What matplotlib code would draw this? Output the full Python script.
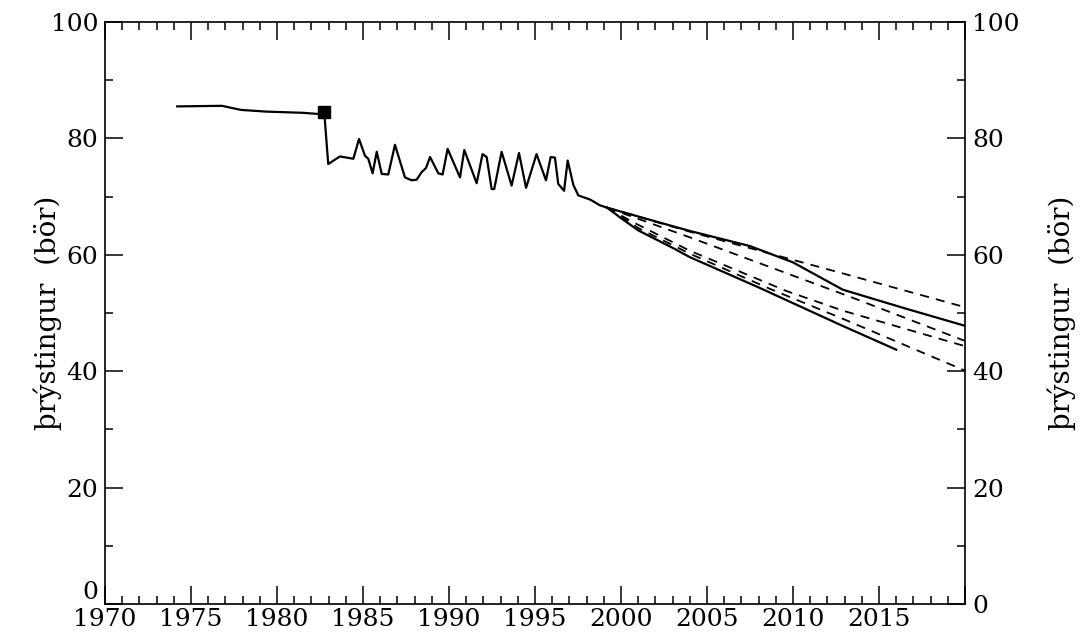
import matplotlib
matplotlib.use("Agg")
import matplotlib.pyplot as plt
from matplotlib.ticker import MultipleLocator, FixedLocator, FixedFormatter

plt.rcParams['font.family'] = ['DejaVu Serif']

# measured pressure (bar), annual swings after production start
hist_year = [1974.2, 1976.8, 1977.9, 1979.4, 1981.5, 1982.4, 1982.75, 1982.98, 1983.66, 1984.44,
             1984.77, 1985.12, 1985.31, 1985.56, 1985.80, 1986.09, 1986.47, 1986.86, 1987.44,
             1987.83, 1988.12, 1988.41, 1988.66, 1988.90, 1989.38, 1989.63, 1989.92, 1990.64,
             1990.89, 1991.61, 1991.95, 1992.19, 1992.48, 1992.63, 1993.06, 1993.64, 1994.07,
             1994.48, 1995.09, 1995.64, 1995.91, 1996.16, 1996.35, 1996.69, 1996.90, 1997.23,
             1997.52, 1998.20, 1998.78, 1999.19]
hist_pres = [85.5, 85.6, 84.9, 84.6, 84.4, 84.2, 84.4, 75.6, 76.9, 76.5,
             79.9, 77.0, 76.5, 74.0, 77.7, 73.9, 73.8, 78.9, 73.3,
             72.8, 72.9, 74.2, 74.9, 76.8, 74.0, 73.8, 78.2, 73.3,
             78.0, 72.3, 77.3, 76.8, 71.3, 71.3, 77.7, 71.9, 77.5,
             71.5, 77.3, 72.8, 76.8, 76.7, 72.2, 71.0, 76.2, 72.0,
             70.2, 69.5, 68.5, 68.1]

# initial-state marker
marker_year = [1982.75]
marker_pres = [84.6]

# forecast scenarios (solid)
up_year = [1999.19, 2002.3, 2004.0, 2007.5, 2010.0, 2012.9, 2016.5, 2020.0]
up_pres = [68.1, 65.5, 64.1, 61.5, 58.7, 54.0, 50.8, 47.8]
lo_year = [1999.19, 2000.0, 2001.0, 2003.0, 2004.0, 2008.0, 2012.8, 2016.0]
lo_pres = [68.1, 66.3, 64.2, 61.2, 59.6, 54.4, 47.9, 43.7]

# forecast scenarios (dashed)
dash_year = [
    [1999.19, 2004.2, 2012.9, 2020.0],
    [1999.19, 2004.0, 2013.4, 2020.0],
    [1999.19, 2000.7, 2004.0, 2009.6, 2012.9, 2020.0],
    [1999.19, 2001.0, 2004.0, 2008.7, 2012.9, 2020.0],
]
dash_pres = [
    [68.1, 63.8, 56.8, 51.0],
    [68.1, 63.0, 52.7, 45.2],
    [68.1, 65.6, 60.7, 53.8, 50.4, 44.3],
    [68.1, 64.6, 60.2, 54.1, 49.0, 40.1],
]

x_major = [1970, 1975, 1980, 1985, 1990, 1995, 2000, 2005, 2010, 2015, 2020]
x_labels = ['1970', '1975', '1980', '1985', '1990', '1995', '2000', '2005', '2010', '2015', '']
y_major = [0, 20, 40, 60, 80, 100]
ylabel = 'þrýstingur  (bör)'

fig = plt.figure(figsize=(10.81, 6.38), dpi=100)
ax = fig.add_axes([0.0971, 0.0533, 0.7956, 0.9122])
# right side labels live on a twin axis
ax2 = ax.twinx()

ax.plot(hist_year, hist_pres, color='black', lw=1.6, solid_joinstyle='round')
ax.plot(marker_year, marker_pres, 's', color='black', markersize=9)
ax.plot(up_year, up_pres, color='black', lw=1.6)
ax.plot(lo_year, lo_pres, color='black', lw=1.6)
for xs, ys in zip(dash_year, dash_pres):
    ax.plot(xs, ys, color='black', lw=1.3, linestyle=(0, (5, 4)))

ax.set_xlim(1970, 2020)
ax.set_ylim(0, 100)
ax.xaxis.set_major_locator(FixedLocator(x_major))
ax.xaxis.set_major_formatter(FixedFormatter(x_labels))
ax.xaxis.set_minor_locator(MultipleLocator(1))
ax.yaxis.set_major_locator(FixedLocator(y_major))
ax.yaxis.set_minor_locator(MultipleLocator(10))

for s in ax.spines.values():
    s.set_linewidth(1.2)

ax.tick_params(which='both', direction='in', top=True, right=True, left=True, bottom=True,
               width=1.1, labelsize=18, colors='black')
ax.tick_params(which='major', length=13)
ax.tick_params(axis='x', which='major', pad=3)
ax.tick_params(axis='y', which='major', pad=5)
ax.tick_params(which='minor', length=6)
ax.set_ylabel(ylabel, fontsize=20, labelpad=-8)

ax2.set_ylim(ax.get_ylim())
ax2.yaxis.set_major_locator(FixedLocator(y_major))
ax2.tick_params(which='both', length=0, labelsize=18, pad=5)
ax2.set_ylabel(ylabel, fontsize=20, labelpad=20)
for s in ax2.spines.values():
    s.set_visible(False)

# lift the left "0" so it sits above "1970", as in the original
fig.canvas.draw()
for t in ax.yaxis.get_major_ticks():
    if t.label1.get_text() == '0':
        t.label1.set_verticalalignment('bottom')

fig.savefig('out.png', dpi=100)
